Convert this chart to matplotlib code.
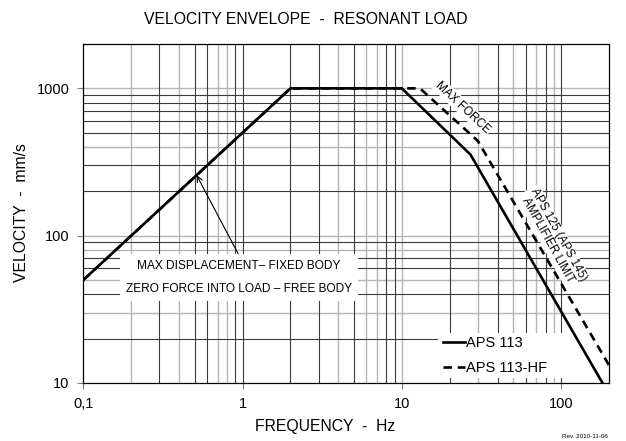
"""Velocity envelope, resonant load: APS 113 vs APS 113-HF (log-log)."""
import matplotlib
matplotlib.use("Agg")
import matplotlib.pyplot as plt
from matplotlib.patches import Rectangle
from matplotlib.ticker import FixedLocator, FixedFormatter, NullLocator

plt.rcParams["font.family"] = ["Liberation Sans", "DejaVu Sans"]

# envelope corner points
FREQ_113 = [0.1, 2, 10, 27, 182]
VEL_113 = [50, 1000, 1000, 355, 10]
FREQ_HF = [0.1, 2, 10, 13, 30, 200]
VEL_HF = [50, 1000, 1000, 1000, 440, 13.2]

X_TICKS = [0.1, 1, 10, 100]
X_LABELS = ["0,1", "1", "10", "100"]
Y_TICKS = [10, 100, 1000]
Y_LABELS = ["10", "100", "1000"]

# grid lines come in two shades in the original
X_GRID_DARK = [0.3, 0.5, 0.6, 0.9, 1, 2, 3, 5, 8, 9, 20, 40, 60, 80, 100]
X_GRID_LIGHT = [0.2, 0.4, 0.7, 0.8, 4, 6, 7, 10, 30, 50, 70, 90]
Y_GRID_DARK = [20, 40, 60, 70, 90, 200, 300, 500, 600, 700, 800, 900]
Y_GRID_LIGHT = [30, 50, 80, 100, 400, 1000]

DARK = "#3a3a3a"
LIGHT = "#b4b4b4"
W, H = 626, 441
AX_L, AX_R, AX_T, AX_B = 83.3, 609, 44, 383


def ax_frac(px, py):
    return (px - AX_L) / (AX_R - AX_L), (AX_B - py) / (AX_B - AX_T)


fig = plt.figure(figsize=(W / 100, H / 100), dpi=100)
ax = fig.add_axes([AX_L / W, 1 - AX_B / H, (AX_R - AX_L) / W, (AX_B - AX_T) / H])
ax.set_xscale("log")
ax.set_yscale("log")
ax.set_xlim(0.1, 200)
ax.set_ylim(10, 2000)

for x in X_GRID_LIGHT:
    ax.axvline(x, color=LIGHT, lw=1.0, zorder=0.5)
for x in X_GRID_DARK:
    ax.axvline(x, color=DARK, lw=0.8, zorder=0.6)
for y in Y_GRID_LIGHT:
    ax.axhline(y, color=LIGHT, lw=1.0, zorder=0.5)
for y in Y_GRID_DARK:
    ax.axhline(y, color=DARK, lw=0.8, zorder=0.6)

ax.plot(FREQ_113, VEL_113, color="black", lw=1.9, solid_joinstyle="miter",
        label="APS 113", zorder=3)
ax.plot(FREQ_HF, VEL_HF, color="black", lw=1.9, dashes=(3.2, 2.2),
        label="APS 113-HF", zorder=3)

ax.xaxis.set_major_locator(FixedLocator(X_TICKS))
ax.xaxis.set_major_formatter(FixedFormatter(X_LABELS))
ax.xaxis.set_minor_locator(NullLocator())
ax.yaxis.set_major_locator(FixedLocator(Y_TICKS))
ax.yaxis.set_major_formatter(FixedFormatter(Y_LABELS))
ax.yaxis.set_minor_locator(NullLocator())
ax.tick_params(which="major", direction="out", length=4, width=0.8,
               color="#808080", labelsize=10.5, pad=6)
for sp in ax.spines.values():
    sp.set_color("black")
    sp.set_linewidth(0.9)
    sp.set_zorder(6)

fig.text(306 / W, 1 - 20 / H, "VELOCITY ENVELOPE  -  RESONANT LOAD",
         ha="center", va="center", fontsize=11.3)
fig.text(325 / W, 1 - 427 / H, "FREQUENCY  -  Hz",
         ha="center", va="center", fontsize=11.3)
fig.text(22 / W, 1 - 213 / H, "VELOCITY  -  mm/s", rotation=90,
         ha="center", va="center", fontsize=11.3)
fig.text(608 / W, 1 - 436 / H, "Rev. 2010-11-06",
         ha="right", va="center", fontsize=4.5)

# annotation box for the displacement segment
ax.annotate("", xy=(0.515, 257), xytext=(0.963, 71.5),
            arrowprops=dict(arrowstyle="->", color="black", lw=0.8,
                            shrinkA=0, shrinkB=0), zorder=4)
ax.text(0.95, 52, "MAX DISPLACEMENT\u2013 FIXED BODY\n\n"
        "ZERO FORCE INTO LOAD \u2013 FREE BODY",
        ha="center", va="center", fontsize=8.6, linespacing=0.95,
        bbox=dict(facecolor="white", edgecolor="none", pad=4), zorder=4)

ax.text(24.2, 743, "MAX FORCE", rotation=-43, ha="center", va="center",
        fontsize=8.5, rotation_mode="anchor",
        bbox=dict(facecolor="white", edgecolor="none", pad=1), zorder=4)
ax.text(88.8, 97.7, "APS 125 (APS 145)\nAMPLIFIER LIMIT", rotation=-61,
        ha="center", va="center", fontsize=8.5, linespacing=1.0,
        rotation_mode="anchor",
        bbox=dict(facecolor="white", edgecolor="none", pad=1), zorder=4)

# white legend panel sits under the curves
x0, y0 = ax_frac(438, 378)
x1, y1 = ax_frac(AX_R, 333)
ax.add_patch(Rectangle((x0, y0), x1 - x0, y1 - y0, transform=ax.transAxes,
                       facecolor="white", edgecolor="none", zorder=2))
lx, ly = ax_frac(443, 336)
leg = ax.legend(loc="upper left", bbox_to_anchor=(lx, ly), frameon=False,
                fontsize=10.5, handlelength=1.5, handletextpad=0.1,
                labelspacing=0.75, borderpad=0, borderaxespad=0)
leg.set_zorder(2.5)

fig.savefig("out.png", dpi=100)
